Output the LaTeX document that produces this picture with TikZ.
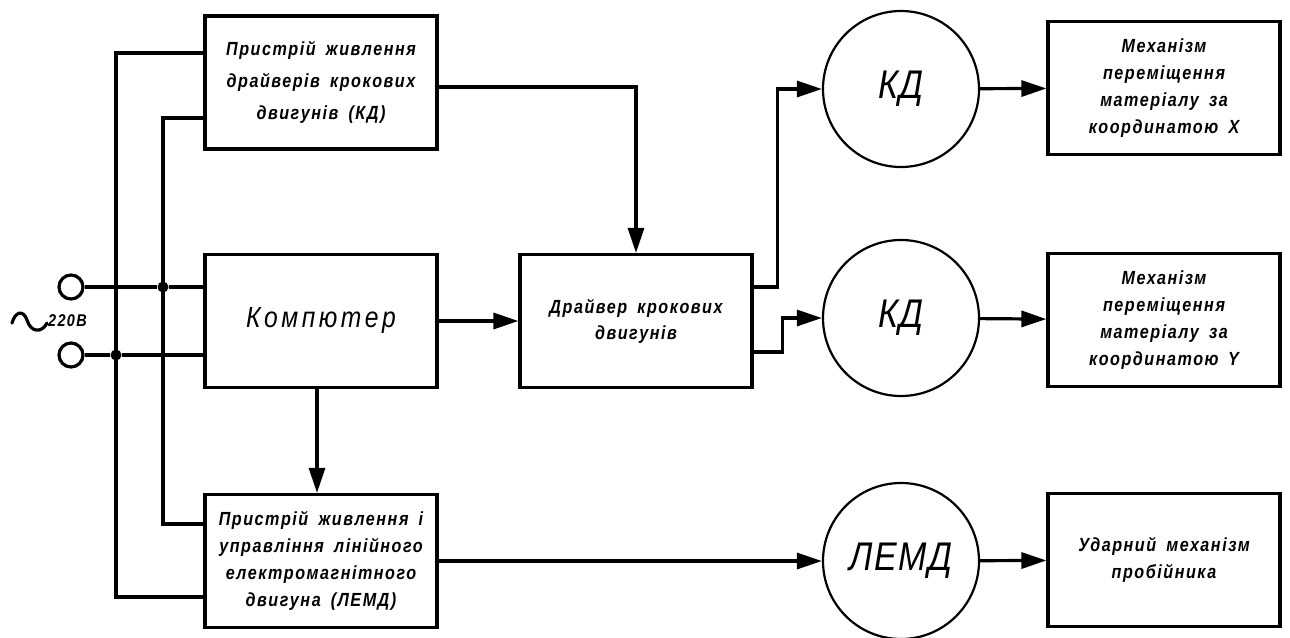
\documentclass[tikz,border=0pt]{standalone}
\usepackage{fontspec}
\usetikzlibrary{arrows.meta}
\newfontfamily\gost{Liberation Sans}[FakeStretch=0.85, LetterSpace=8, WordSpace=1.7]
\newfontfamily\gostbig{Liberation Sans}[FakeStretch=0.85, LetterSpace=12, WordSpace=1.5]
\newfontfamily\gostmot{Liberation Sans}[FakeStretch=0.85, LetterSpace=4]
\begin{document}
\begin{tikzpicture}[x=1pt,y=-1pt,
  wire/.style={line width=3.2pt},
  arr/.style={wire,-{Triangle[length=25pt,width=16pt]}},
  blk/.style={draw,line width=3.2pt,minimum width=232pt,minimum height=133pt,inner sep=0pt,align=center,font=\gost\bfseries\itshape\fontsize{19}{27}\selectfont},
  motor/.style={draw,circle,line width=2.2pt,minimum size=156pt,inner sep=0pt,font=\gostmot\itshape\fontsize{40}{40}\selectfont},
  term/.style={draw,circle,line width=3.2pt,minimum size=24pt,inner sep=0pt},
  dot/.style={circle,fill,minimum size=11pt,inner sep=0pt}]
\useasboundingbox (0,0) rectangle (1290,637);
% blocks
\node[blk,font=\gost\bfseries\itshape\fontsize{19}{32}\selectfont] (psu) at (321,82.5) {Пристрій живлення\\драйверів крокових\\двигунів (КД)};
\node[blk,font=\gostbig\itshape\fontsize{29}{30}\selectfont] (pc) at (321,321) {Компютер};
\node[blk] (lemdpsu) at (321,561) {Пристрій живлення і\\управління лінійного\\електромагнітного\\двигуна (ЛЕМД)};
\node[blk,font=\gost\bfseries\itshape\fontsize{19}{26}\selectfont] (drv) at (636,321) {Драйвер крокових\\двигунів};
\node[motor] (kd1) at (901,89) {КД};
\node[motor] (kd2) at (901,318) {КД};
\node[motor] (lemd) at (901,561) {ЛЕМД};
\node[blk] (mx) at (1164,88) {Механізм\\переміщення\\матеріалу за\\координатою X};
\node[blk] (my) at (1164,320) {Механізм\\переміщення\\матеріалу за\\координатою\enspace Y};
\node[blk] (hit) at (1164,560) {Ударний механізм\\пробійника};
% mains terminals
\node[term] (t1) at (71,287) {};
\node[term] (t2) at (71,355) {};
\node[dot] (j1) at (163,287) {};
\node[dot] (j2) at (116,355) {};
\coordinate (o1) at (116,53);
\coordinate (o2) at (116,597);
\coordinate (i1) at (163,118);
\coordinate (i2) at (163,524);
\draw[wire,line cap=round] (12,323) .. controls (15,312) and (23,309) .. (27,320) .. controls (31,333) and (42,333) .. (47,323);
\node[font=\gost\bfseries\itshape\fontsize{17}{17}\selectfont,anchor=west,inner sep=0pt] (v) at (48,321) {220В};
% wires
\draw[wire] (t1) -- (j1) -- (pc.west |- j1);
\draw[wire] (t2) -- (j2) -- (pc.west |- j2);
\draw[wire] (psu.west |- o1) -- (o1) -- (o2) -- (lemdpsu.west |- o2);
\draw[wire] (psu.west |- i1) -- (i1) -- (i2) -- (lemdpsu.west |- i2);
% signal arrows
\draw[arr] ([yshift=-4.5pt]psu.east) -| (drv.north);
\draw[arr] (pc.east) -- (drv.west);
\draw[arr] ([xshift=-4pt]pc.south) -- ([xshift=-4pt]lemdpsu.north);
\draw[arr] (drv.east |- j1) -- ++(24,0) |- (kd1.west);
\draw[arr] (drv.east |- 0,352) -- ++(29,0) |- (kd2.west);
\draw[arr] (lemdpsu.east) -- (lemd.west);
\draw[arr] (kd1) -- (mx);
\draw[arr] (kd2) -- (my);
\draw[arr] (lemd) -- (hit);
\end{tikzpicture}
\end{document}
